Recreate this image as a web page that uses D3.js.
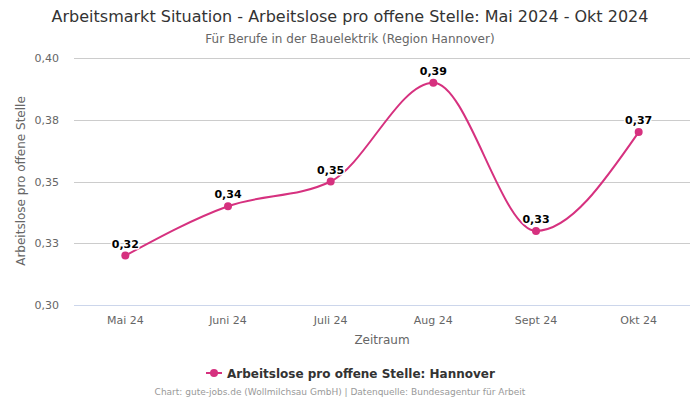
<!DOCTYPE html>
<html><head><meta charset="utf-8">
<script src="https://cdn.jsdelivr.net/npm/d3@7"></script>
<style>body{margin:0;background:#fff;font-family:"DejaVu Sans",sans-serif}</style>
</head><body><svg id="c" width="700" height="400"></svg>
<script>
const categories = ["Mai 24","Juni 24","Juli 24","Aug 24","Sept 24","Okt 24"];
const values = [0.32, 0.34, 0.35, 0.39, 0.33, 0.37];
const yTicks = [0.30, 0.325, 0.35, 0.375, 0.40];
const seriesName = "Arbeitslose pro offene Stelle: Hannover";
const color = "#d6317f";
const fmt = v => d3.format(".2f")(v).replace(".", ",");

const svg = d3.select("#c");
const L = 74, R = 690, T = 58, B = 305;
const x = d3.scaleBand().domain(categories).range([L, R]);
const y = d3.scaleLinear().domain([0.30, 0.40]).range([B, T]);

svg.append("text").attr("x",350).attr("y",22).attr("text-anchor","middle")
  .attr("font-size",16).attr("fill","#333").text("Arbeitsmarkt Situation - Arbeitslose pro offene Stelle: Mai 2024 - Okt 2024");
svg.append("text").attr("x",350).attr("y",43).attr("text-anchor","middle")
  .attr("font-size",12).attr("fill","#666").text("Für Berufe in der Bauelektrik (Region Hannover)");

// grid
svg.append("g").selectAll("line").data(yTicks.slice(1)).join("line")
  .attr("x1",L).attr("x2",R).attr("y1",d=>Math.round(y(d))+0.5).attr("y2",d=>Math.round(y(d))+0.5)
  .attr("stroke","#cccccc").attr("stroke-width",1);
svg.append("line").attr("x1",L).attr("x2",R).attr("y1",B+0.5).attr("y2",B+0.5).attr("stroke","#ccd6eb");

// y labels
svg.append("g").selectAll("text").data(yTicks).join("text")
  .attr("x",59).attr("y",d=>y(d)+4).attr("text-anchor","end")
  .attr("font-size",11).attr("fill","#666").text(fmt);
// x labels
svg.append("g").selectAll("text").data(categories).join("text")
  .attr("x",d=>x(d)+x.bandwidth()/2).attr("y",324).attr("text-anchor","middle")
  .attr("font-size",11).attr("fill","#666").text(d=>d);

svg.append("text").attr("x",382).attr("y",344).attr("text-anchor","middle")
  .attr("font-size",12).attr("fill","#666").text("Zeitraum");
svg.append("text").attr("transform","translate(25,181) rotate(-90)").attr("text-anchor","middle")
  .attr("font-size",12).attr("fill","#666").text("Arbeitslose pro offene Stelle");

const pts = categories.map((c,i)=>[x(c)+x.bandwidth()/2, y(values[i])]);
svg.append("path").attr("d", d3.line().curve(d3.curveMonotoneX)(pts))
  .attr("fill","none").attr("stroke",color).attr("stroke-width",2);
svg.append("g").selectAll("circle").data(pts).join("circle")
  .attr("cx",d=>d[0]).attr("cy",d=>d[1]).attr("r",4).attr("fill",color);
svg.append("g").selectAll("text").data(pts).join("text")
  .attr("x",d=>d[0]).attr("y",d=>d[1]-8).attr("text-anchor","middle")
  .attr("font-size",11).attr("font-weight","bold").attr("fill","#000")
  .attr("stroke","#fff").attr("stroke-width",3).attr("paint-order","stroke").attr("stroke-linejoin","round")
  .text((d,i)=>fmt(values[i]));

// legend
const lg = svg.append("g");
lg.append("line").attr("x1",206).attr("x2",222).attr("y1",373).attr("y2",373).attr("stroke",color).attr("stroke-width",2);
lg.append("circle").attr("cx",214).attr("cy",373).attr("r",4).attr("fill",color);
lg.append("text").attr("x",227).attr("y",377.5).attr("font-size",12).attr("font-weight","bold").attr("fill","#333").text(seriesName);

svg.append("text").attr("x",340).attr("y",395).attr("text-anchor","middle")
  .attr("font-size",9).attr("fill","#999").text("Chart: gute-jobs.de (Wollmilchsau GmbH) | Datenquelle: Bundesagentur für Arbeit");
</script></body></html>
